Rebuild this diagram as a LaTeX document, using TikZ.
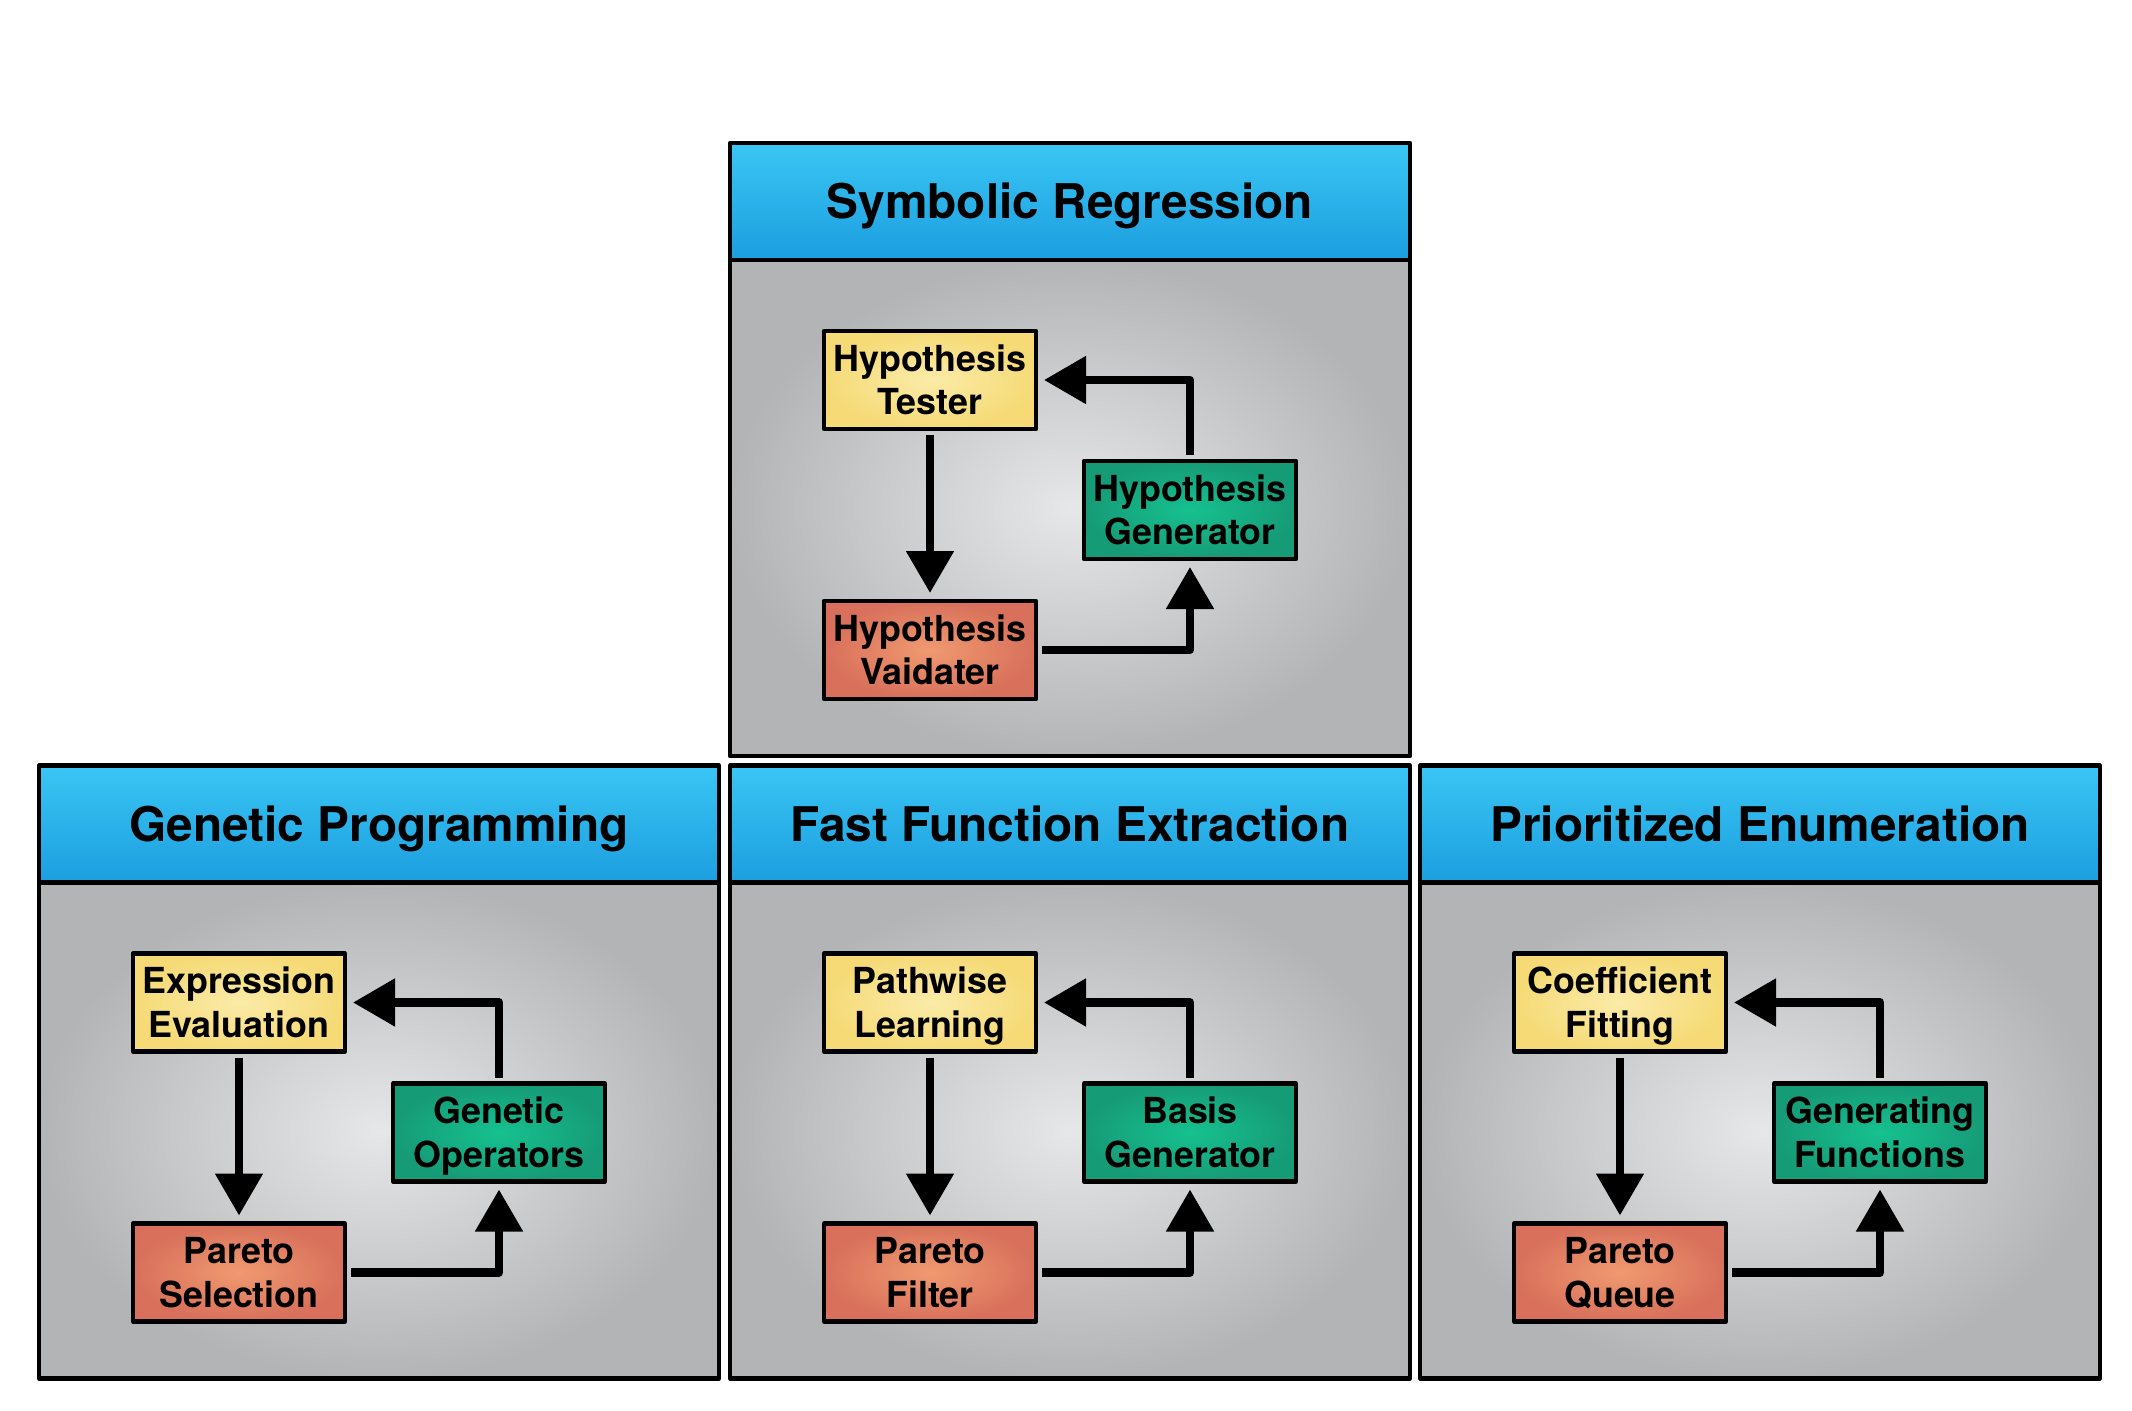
\documentclass[tikz,border=0pt]{standalone}
\usepackage{fontspec}
\setmainfont{TeX Gyre Heros}
\usetikzlibrary{arrows.meta}

\definecolor{cieloA}{HTML}{3AC6F4}
\definecolor{cieloB}{HTML}{1C9EDF}
\definecolor{grigioC}{HTML}{E6E7E8}
\definecolor{grigioB}{HTML}{B3B4B6}
\definecolor{gialloC}{HTML}{FBEBA8}
\definecolor{gialloB}{HTML}{F5DA76}
\definecolor{verdeC}{HTML}{16C190}
\definecolor{verdeB}{HTML}{169B77}
\definecolor{rossoC}{HTML}{F09A70}
\definecolor{rossoB}{HTML}{D8705B}

\begin{document}
\begin{tikzpicture}[x=1cm,y=1cm,line join=round,
    titolo/.style={font=\bfseries\fontsize{13.6}{16}\selectfont,inner sep=0pt,
      text height=9.9pt,text depth=0pt},
    blocco/.style={draw=black,line width=1.2pt,minimum width=2.12cm,minimum height=0.98cm,
      text width=2.06cm,align=center,inner sep=0pt,outer sep=0pt,
      font=\bfseries\fontsize{10.2}{12.3}\selectfont,
      text height=7.45pt,text depth=12.3pt},
    giallo/.style={blocco,inner color=gialloC,outer color=gialloB},
    verde/.style={blocco,inner color=verdeC,outer color=verdeB},
    rosso/.style={blocco,inner color=rossoC,outer color=rossoB},
    freccia/.style={line width=2.4pt,-{Triangle[length=0.42cm,width=0.46cm]},
      shorten <=0.06cm,shorten >=0.08cm}]

  \useasboundingbox (0,0) rectangle (21.32,14.10);

  % ---- i quattro riquadri: angolo in alto a sinistra, nome, titolo, blocchi ----
  \foreach \px/\py/\nm/\tit/\ta/\tb/\tc in {
      7.30/12.67/sr/{Symbolic Regression}/{Hypothesis\\Tester}/{Hypothesis\\Generator}/{Hypothesis\\Vaidater},
      0.39/6.445/gp/{Genetic Programming}/{Expression\\Evaluation}/{Genetic\\Operators}/{Pareto\\Selection},
      7.30/6.445/ffx/{Fast Function Extraction}/{Pathwise\\Learning}/{Basis\\Generator}/{Pareto\\Filter},
      14.20/6.445/pe/{Prioritized Enumeration}/{Coefficient\\Fitting}/{Generating\\Functions}/{Pareto\\Queue}}{

    % corpo grigio e testata azzurra
    \shadedraw[line width=1.2pt,inner color=grigioC,outer color=grigioB]
      (\px,\py-1.17) rectangle ++(6.80,-4.96);
    \shadedraw[line width=1.2pt,top color=cieloA,bottom color=cieloB]
      (\px,\py) rectangle ++(6.80,-1.17);
    \node[titolo] (tit-\nm) at (\px+3.40,\py-0.585) {\tit};

    % blocchi del ciclo
    \node[giallo] (alto-\nm)  at (\px+2.00,\py-2.37) {\ta};
    \node[verde]  (lato-\nm)  at (\px+4.60,\py-3.67) {\tb};
    \node[rosso]  (basso-\nm) at (\px+2.00,\py-5.07) {\tc};

    % frecce
    \draw[freccia] (alto-\nm.south) -- (basso-\nm.north);
    \draw[freccia] (basso-\nm.east) -| (lato-\nm.south);
    \draw[freccia] (lato-\nm.north) |- (alto-\nm.east);
  }

\end{tikzpicture}
\end{document}
